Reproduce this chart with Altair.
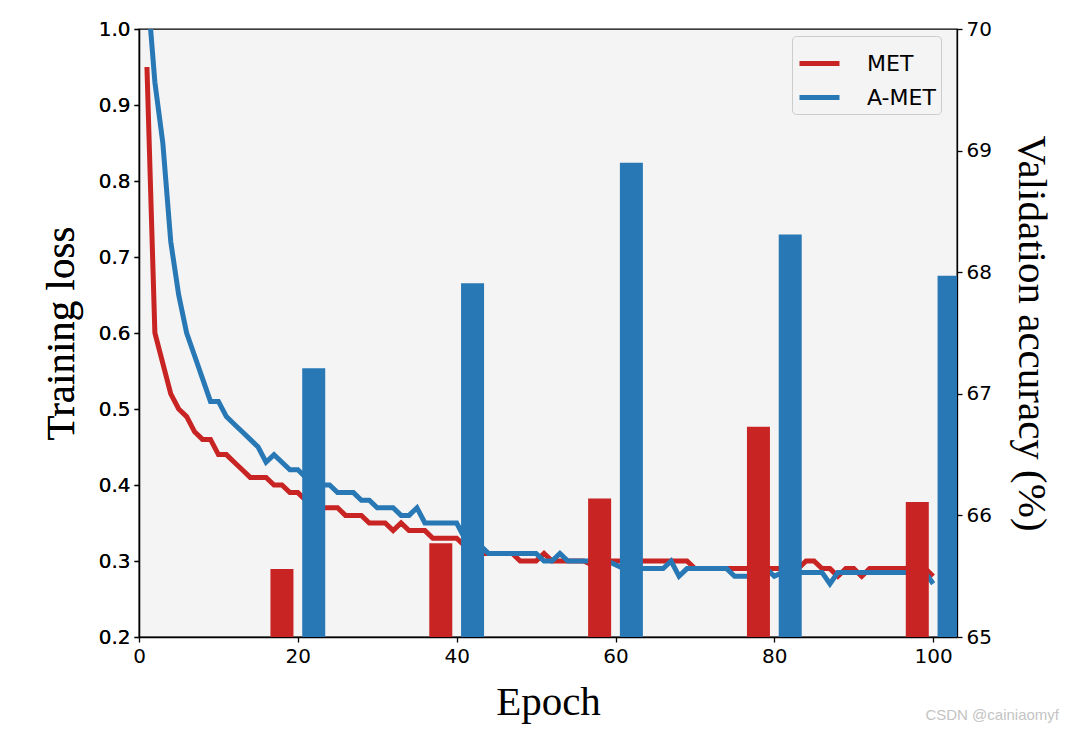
import altair as alt
import pandas as pd

# ---------------- data ----------------
epochs = list(range(1, 101))

met_loss = [
    0.95, 0.60, 0.56, 0.52, 0.50, 0.49, 0.47, 0.46, 0.46, 0.44,
    0.44, 0.43, 0.42, 0.41, 0.41, 0.41, 0.40, 0.40, 0.39, 0.39,
    0.38, 0.38, 0.37, 0.37, 0.37, 0.36, 0.36, 0.36, 0.35, 0.35,
    0.35, 0.34, 0.35, 0.34, 0.34, 0.34, 0.33, 0.33, 0.33, 0.33,
    0.32, 0.32, 0.31, 0.31, 0.31, 0.31, 0.31, 0.30, 0.30, 0.30,
    0.31, 0.30, 0.30, 0.30, 0.30, 0.30, 0.295, 0.30, 0.30, 0.30,
    0.30, 0.30, 0.30, 0.30, 0.30, 0.30, 0.30, 0.30, 0.30, 0.29,
    0.29, 0.29, 0.29, 0.29, 0.29, 0.29, 0.29, 0.29, 0.29, 0.29,
    0.29, 0.29, 0.29, 0.30, 0.30, 0.29, 0.29, 0.28, 0.29, 0.29,
    0.28, 0.29, 0.29, 0.29, 0.29, 0.29, 0.29, 0.29, 0.29, 0.28,
]

amet_loss = [
    1.06, 0.93, 0.85, 0.72, 0.65, 0.60, 0.57, 0.54, 0.51, 0.51,
    0.49, 0.48, 0.47, 0.46, 0.45, 0.43, 0.44, 0.43, 0.42, 0.42,
    0.41, 0.40, 0.40, 0.40, 0.39, 0.39, 0.39, 0.38, 0.38, 0.37,
    0.37, 0.37, 0.36, 0.36, 0.37, 0.35, 0.35, 0.35, 0.35, 0.35,
    0.33, 0.32, 0.32, 0.31, 0.31, 0.31, 0.31, 0.31, 0.31, 0.31,
    0.30, 0.30, 0.31, 0.30, 0.30, 0.30, 0.30, 0.30, 0.30, 0.295,
    0.29, 0.29, 0.29, 0.29, 0.29, 0.29, 0.30, 0.28, 0.29, 0.29,
    0.29, 0.29, 0.29, 0.29, 0.28, 0.28, 0.28, 0.28, 0.29, 0.28,
    0.285, 0.285, 0.285, 0.285, 0.285, 0.285, 0.27, 0.285, 0.285, 0.285,
    0.285, 0.285, 0.285, 0.285, 0.285, 0.285, 0.285, 0.285, 0.285, 0.27,
]

met_bar_epochs = [18, 38, 58, 78, 98]
met_bar_acc = [65.56, 65.77, 66.14, 66.73, 66.11]
amet_bar_epochs = [22, 42, 62, 82, 102]
amet_bar_acc = [67.21, 67.91, 68.90, 68.31, 67.97]

models = ["MET", "A-MET"]
colors = ["#c82423", "#2878b5"]
x_ticks = [0, 20, 40, 60, 80, 100]
loss_ticks = [0.2, 0.3, 0.4, 0.5, 0.6, 0.7, 0.8, 0.9, 1.0]
acc_ticks = [65, 66, 67, 68, 69, 70]

# ---------------- tables ----------------
met_df = pd.DataFrame({"epoch": epochs, "loss": met_loss, "model": "MET"})
amet_df = pd.DataFrame({"epoch": epochs, "loss": amet_loss, "model": "A-MET"})
bar_df = pd.DataFrame({
    "epoch": met_bar_epochs + amet_bar_epochs,
    "acc": met_bar_acc + amet_bar_acc,
    "model": ["MET"] * 5 + ["A-MET"] * 5,
})

W, H = 818, 608
TICK_FONT = "DejaVu Sans"
TITLE_FONT = "Liberation Serif"

color_scale = alt.Scale(domain=models, range=colors)

x_enc = alt.X(
    "epoch:Q",
    scale=alt.Scale(domain=[0, 103], nice=False, zero=False, padding=0),
    axis=alt.Axis(values=x_ticks, title="Epoch", format="d", titlePadding=16),
)

y_loss = alt.Y(
    "loss:Q",
    scale=alt.Scale(domain=[0.2, 1.0], nice=False, zero=False),
    axis=alt.Axis(orient="left", values=loss_ticks, format=".1f",
                  title="Training loss", titlePadding=16),
)

legend = alt.Legend(
    title=None, orient="none", legendX=653, legendY=7,
    symbolType="stroke", symbolStrokeWidth=5, symbolSize=1600,
    labelFontSize=22, labelFont=TICK_FONT, labelColor="black",
    fillColor="#f4f4f4", strokeColor="#cccccc", cornerRadius=4,
    padding=5, rowPadding=-7, labelOffset=25,
)

line_met = alt.Chart(met_df).mark_line(strokeWidth=5, clip=True).encode(
    x=x_enc, y=y_loss,
    color=alt.Color("model:N", scale=color_scale, legend=legend),
)
line_amet = alt.Chart(amet_df).mark_line(strokeWidth=5, clip=True).encode(
    x=x_enc, y=y_loss,
    color=alt.Color("model:N", scale=color_scale, legend=legend),
)

bars = alt.Chart(bar_df).mark_bar(size=23, clip=True).encode(
    x=x_enc,
    y=alt.Y(
        "acc:Q",
        scale=alt.Scale(domain=[65, 70], nice=False, zero=False),
        axis=alt.Axis(orient="right", values=acc_ticks, format="d",
                      title="Validation accuracy (%)", titlePadding=18),
    ),
    y2=alt.datum(65),
    color=alt.Color("model:N", scale=color_scale, legend=None),
)

chart = (
    alt.layer(line_met, line_amet, bars)
    .resolve_scale(y="independent")
    .properties(
        width=W, height=H,
        autosize=alt.AutoSizeParams(type="none"),
        padding={"left": 131, "top": 21, "right": 107, "bottom": 89},
        background="white",
        title=alt.TitleParams(
            "CSDN @cainiaomyf", orient="bottom", anchor="end", frame="group",
            fontSize=15, font="Liberation Sans", fontWeight="normal",
            color="#c4c4c4", dx=102, offset=-14,
        ),
    )
    .configure_view(fill="#f4f4f4", stroke="black", strokeWidth=1.3)
    .configure_axis(
        grid=False, labelFlush=False,
        domainColor="black", domainWidth=1.3,
        tickColor="black", tickSize=5, tickWidth=1.3,
        labelColor="black", labelFont=TICK_FONT, labelFontSize=20, labelPadding=4,
        titleColor="black", titleFont=TITLE_FONT, titleFontSize=41,
        titleFontWeight="normal",
    )
)

chart.save("out.html", embed_options={"renderer": "svg", "actions": False})
